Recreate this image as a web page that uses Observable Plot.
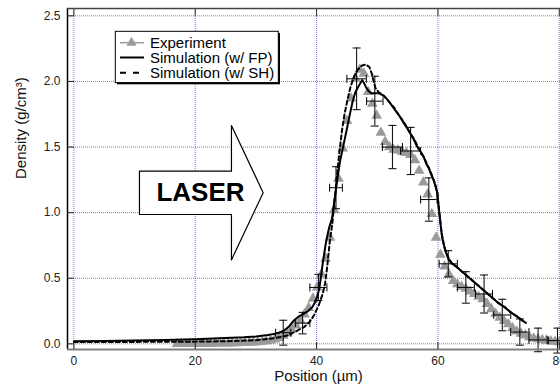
<!DOCTYPE html>
<html>
<head>
<meta charset="utf-8">
<script src="https://cdn.jsdelivr.net/npm/d3@7"></script>
<script src="https://cdn.jsdelivr.net/npm/@observablehq/plot@0.6"></script>
<style>
  html, body { margin: 0; padding: 0; background: #fff; overflow: hidden; }
  #chart svg { display: block; }
</style>
</head>
<body>
<div id="chart"></div>
<script>
// Measured density profile (gray triangles), position in µm
const expX = [17.0, 17.7, 18.4, 19.1, 19.8, 20.5, 21.2, 21.9, 22.6, 23.3, 24.0, 24.7, 25.4, 26.1, 26.8, 27.5, 28.2, 28.9, 29.6, 30.3,
  31.0, 31.7, 32.4, 33.1, 33.8, 34.5, 35.2, 35.9, 36.6, 37.3, 38.0, 38.7, 39.4, 40.1, 40.8, 41.5, 42.2, 42.9, 43.6, 44.3,
  45.0, 45.7, 46.4, 47.1, 47.8, 48.5, 49.2, 49.9, 50.6, 51.3, 52.0, 52.7, 53.4, 54.1, 54.8, 55.5, 56.2, 56.9, 57.6, 58.3,
  59.0, 59.7, 60.4, 61.1, 61.8, 62.5, 63.2, 63.9, 64.6, 65.3, 66.0, 66.7, 67.4, 68.1, 68.8, 69.5, 70.2, 70.9, 71.6, 72.3,
  73.0, 73.7, 74.4, 75.1, 75.8, 76.5, 77.2, 77.9, 78.6, 79.3, 80.0];
const expY = [0.000, 0.000, 0.000, 0.001, 0.001, 0.001, 0.002, 0.002, 0.002, 0.003, 0.003, 0.003, 0.004, 0.005, 0.006, 0.007, 0.008, 0.010, 0.011, 0.013,
  0.016, 0.020, 0.026, 0.034, 0.046, 0.062, 0.082, 0.110, 0.140, 0.180, 0.225, 0.275, 0.345, 0.430, 0.530, 0.650, 0.810, 1.020, 1.260, 1.490,
  1.700, 1.870, 2.020, 2.090, 2.060, 1.920, 1.830, 1.740, 1.610, 1.540, 1.500, 1.480, 1.475, 1.465, 1.455, 1.440, 1.400, 1.320, 1.230, 1.140,
  0.990, 0.810, 0.680, 0.590, 0.530, 0.480, 0.455, 0.435, 0.420, 0.400, 0.380, 0.360, 0.340, 0.305, 0.265, 0.230, 0.200, 0.175, 0.150, 0.120,
  0.095, 0.078, 0.065, 0.052, 0.042, 0.036, 0.030, 0.025, 0.020, 0.016, 0.014];

// Error bars on selected measurements: centre, half-width in x, half-height in y
const barX  = [34.5, 37.7, 40.3, 43.2, 46.6, 49.6, 52.5, 55.5, 58.5, 61.7, 64.6, 67.6, 70.6, 73.5, 76.5, 79.7];
const barY  = [0.085, 0.158, 0.43, 1.19, 2.02, 1.85, 1.50, 1.47, 1.10, 0.61, 0.43, 0.38, 0.22, 0.09, 0.03, 0.025];
const barDX = [1.25, 1.2, 1.4, 1.05, 1.6, 1.35, 1.65, 1.65, 1.35, 1.5, 1.4, 1.4, 1.4, 1.5, 1.5, 1.5];
const barDY = [0.095, 0.082, 0.10, 0.16, 0.235, 0.19, 0.165, 0.18, 0.165, 0.10, 0.12, 0.145, 0.12, 0.10, 0.09, 0.095];

// Simulation with flux-limited (FP) transport
const fpX = [0, 5, 10, 15, 20, 25, 28, 30, 32, 33.5, 34.6, 35.5, 36.3, 37.1, 37.9, 38.6, 39.3, 39.8, 40.1, 40.4,
  40.6, 40.8, 41.0, 41.3, 41.5, 41.8, 42.1, 42.5, 42.7, 42.9, 43.2, 43.5, 43.9, 44.5, 45.0, 45.4, 45.9, 46.4, 47.0, 47.5,
  47.8, 48.1, 48.5, 49.0, 49.6, 50.3, 51.1, 51.7, 52.2, 52.8, 53.3, 53.9, 54.4, 55.0, 55.5, 56.1, 56.6, 57.2, 57.7, 58.1,
  58.5, 58.8, 59.2, 59.6, 59.9, 60.1, 60.3, 60.5, 60.7, 61.0, 61.3, 61.7, 62.2, 63.0, 64.0, 65.0, 66.0, 67.0, 68.0, 69.0,
  70.0, 71.0, 72.0, 73.0, 74.0, 74.5];
const fpY = [0.020, 0.022, 0.025, 0.030, 0.036, 0.045, 0.050, 0.056, 0.068, 0.080, 0.100, 0.135, 0.180, 0.210, 0.230, 0.250, 0.280, 0.320, 0.360, 0.410,
  0.470, 0.540, 0.610, 0.700, 0.760, 0.830, 0.890, 0.950, 1.000, 1.080, 1.180, 1.280, 1.400, 1.530, 1.640, 1.730, 1.840, 1.920, 1.970, 2.010,
  1.990, 1.960, 1.930, 1.910, 1.910, 1.910, 1.890, 1.860, 1.830, 1.790, 1.760, 1.720, 1.680, 1.640, 1.600, 1.550, 1.500, 1.460, 1.420, 1.370,
  1.340, 1.300, 1.260, 1.200, 1.150, 1.050, 0.970, 0.880, 0.810, 0.750, 0.700, 0.650, 0.615, 0.590, 0.550, 0.510, 0.470, 0.430, 0.390, 0.350,
  0.310, 0.280, 0.240, 0.210, 0.175, 0.160];

// Simulation with Spitzer-Härm (SH) transport
const shX = [0, 10, 20, 25, 30, 33, 35.2, 36.8, 38.0, 38.9, 39.6, 40.4, 41.0, 41.4, 41.6, 41.8, 42.0, 42.2, 42.6, 42.8,
  43.1, 43.4, 43.8, 44.2, 44.6, 45.1, 45.6, 46.2, 46.8, 47.4, 48.1, 48.7, 49.1, 49.4, 49.7, 50.2, 51.1, 51.7, 52.2, 52.8,
  53.3, 53.9, 54.4, 55.0, 55.5, 56.1, 56.6, 57.2, 57.7, 58.1, 58.5, 58.8, 59.2, 59.6, 59.9, 60.1, 60.3, 60.5, 60.7, 61.0,
  61.3, 61.7, 62.2, 63.0, 64.0, 65.0, 66.0, 67.0, 68.0, 69.0, 70.0, 71.0, 72.0, 73.0, 74.0, 74.4];
const shY = [0.015, 0.015, 0.017, 0.020, 0.028, 0.043, 0.063, 0.100, 0.130, 0.170, 0.220, 0.300, 0.380, 0.460, 0.530, 0.610, 0.700, 0.790, 0.920, 1.020,
  1.150, 1.300, 1.480, 1.630, 1.750, 1.860, 1.960, 2.040, 2.090, 2.120, 2.130, 2.110, 2.060, 2.000, 1.950, 1.920, 1.890, 1.860, 1.830, 1.800,
  1.760, 1.720, 1.690, 1.640, 1.600, 1.560, 1.510, 1.460, 1.420, 1.380, 1.340, 1.310, 1.260, 1.210, 1.150, 1.060, 0.970, 0.890, 0.820, 0.750,
  0.700, 0.660, 0.620, 0.590, 0.550, 0.510, 0.470, 0.430, 0.390, 0.350, 0.310, 0.280, 0.240, 0.210, 0.175, 0.165];

const xTicks = [0, 20, 40, 60, 80];
const yTicks = [0, 0.5, 1.0, 1.5, 2.0, 2.5];
const legendLabels = ["Experiment", "Simulation (w/ FP)", "Simulation (w/ SH)"];

const xDomain = [-1.05, 80.2];
const yDomain = [-0.043, 2.556];

const exp = expX.map((x, i) => ({x, y: expY[i]}));
const bars = barX.map((x, i) => ({x, y: barY[i], dx: barDX[i], dy: barDY[i]}));
const fp = fpX.map((x, i) => ({x, y: fpY[i]}));
const sh = shX.map((x, i) => ({x, y: shY[i]}));

// Outline of the laser arrow annotation, in axis units
const laserArrow = [
  {x: 10.81, y: 1.316}, {x: 25.97, y: 1.316}, {x: 25.97, y: 1.664}, {x: 31.2, y: 1.152},
  {x: 25.97, y: 0.640}, {x: 25.97, y: 0.986}, {x: 10.81, y: 0.986}, {x: 10.81, y: 1.316}
];

// Short cap segments for error bars
const hCap = {draw(ctx, size) { const h = Math.sqrt(size / Math.PI); ctx.moveTo(-h, 0); ctx.lineTo(h, 0); }};
const vCap = {draw(ctx, size) { const h = Math.sqrt(size / Math.PI); ctx.moveTo(0, -h); ctx.lineTo(0, h); }};

const font = "'Liberation Sans', Arial, Helvetica, sans-serif";
const gridStyle = {stroke: "#7474ff", strokeOpacity: 1, strokeWidth: 1, strokeDasharray: "1,1"};

const plot = Plot.plot({
  width: 560,
  height: 390,
  marginLeft: 67,
  marginRight: 0,
  marginTop: 8,
  marginBottom: 41,
  style: {fontFamily: font, background: "#fff", overflow: "visible"},
  x: {domain: xDomain},
  y: {domain: yDomain},
  marks: [
    Plot.gridX(xTicks, gridStyle),
    Plot.gridY(yTicks, gridStyle),
    Plot.line(laserArrow, {x: "x", y: "y", fill: "white", stroke: "black", strokeWidth: 1.2, curve: "linear"}),
    Plot.text(["LASER"], {x: () => 20.86, y: () => 1.155, text: d => d, fontSize: 26, fontWeight: "bold", fill: "black"}),
    Plot.dot(exp, {x: "x", y: "y", symbol: "triangle", r: 4, fill: "#9a9a9a", stroke: "none"}),
    Plot.ruleX(bars, {x: "x", y1: d => d.y - d.dy, y2: d => d.y + d.dy, stroke: "black", strokeWidth: 1}),
    Plot.ruleY(bars, {y: "y", x1: d => d.x - d.dx, x2: d => d.x + d.dx, stroke: "black", strokeWidth: 1}),
    Plot.dot(bars, {x: "x", y: d => d.y - d.dy, symbol: hCap, r: 4, stroke: "black", strokeWidth: 1, fill: "none"}),
    Plot.dot(bars, {x: "x", y: d => d.y + d.dy, symbol: hCap, r: 4, stroke: "black", strokeWidth: 1, fill: "none"}),
    Plot.dot(bars, {x: d => d.x - d.dx, y: "y", symbol: vCap, r: 4, stroke: "black", strokeWidth: 1, fill: "none"}),
    Plot.dot(bars, {x: d => d.x + d.dx, y: "y", symbol: vCap, r: 4, stroke: "black", strokeWidth: 1, fill: "none"}),
    Plot.line(fp, {x: "x", y: "y", stroke: "black", strokeWidth: 2}),
    Plot.line(sh, {x: "x", y: "y", stroke: "black", strokeWidth: 2, strokeDasharray: "4,3"}),
    // frame: black left edge, dark top, grey baseline
    Plot.ruleX([xDomain[0]], {stroke: "black", strokeWidth: 1.5}),
    Plot.ruleY([yDomain[1]], {stroke: "#444", strokeWidth: 1.5}),
    Plot.ruleY([yDomain[0]], {stroke: "#808080", strokeWidth: 2}),
    Plot.axisX(xTicks, {anchor: "bottom", tickSize: -7, tickPadding: 14, fontSize: 12, label: null, color: "#222", tickFormat: d => String(d)}),
    Plot.axisX(xTicks, {anchor: "top", tickSize: -7, tickPadding: 0, label: null, color: "#333", tickFormat: () => ""}),
    Plot.axisY(yTicks, {anchor: "left", tickSize: -7, tickPadding: 14, fontSize: 12, label: null, color: "#222", tickFormat: d => d.toFixed(1)}),
    Plot.text(["Position (µm)"], {frameAnchor: "bottom", dx: 4.5, dy: 31, fontSize: 15, fill: "#111"}),
    Plot.text(["Density (g/cm³)"], {frameAnchor: "left", rotate: -90, dx: -46, fontSize: 15, fill: "#111"})
  ]
});

document.getElementById("chart").appendChild(plot);

// Legend box in the upper left of the plot area
const svg = d3.select(plot);
const lg = svg.append("g").attr("font-family", font).attr("font-size", 15).attr("text-anchor", "start");
lg.append("rect").attr("x", 117).attr("y", 33).attr("width", 163).attr("height", 51.3).attr("fill", "black");
lg.append("rect").attr("x", 115.3).attr("y", 31.3).attr("width", 163).attr("height", 51.3)
  .attr("fill", "white").attr("stroke", "black").attr("stroke-width", 1);
const rows = [42.7, 57.5, 72.7];
const styles = [
  {stroke: "#9a9a9a", width: 1.5, dash: "none"},
  {stroke: "black", width: 2, dash: "none"},
  {stroke: "black", width: 2, dash: "6,7"}
];
legendLabels.forEach((label, i) => {
  const y = rows[i];
  lg.append("line").attr("x1", 120).attr("x2", 144).attr("y1", y).attr("y2", y)
    .attr("stroke", styles[i].stroke).attr("stroke-width", styles[i].width)
    .attr("stroke-dasharray", styles[i].dash);
  if (i === 0) {
    lg.append("path").attr("d", d3.symbol(d3.symbolTriangle, 45)()).attr("transform", `translate(131.5,${y})`).attr("fill", "#9a9a9a");
  }
  lg.append("text").attr("x", 150).attr("y", y).attr("dy", "0.35em").attr("fill", "black").text(label);
});
</script>
</body>
</html>
